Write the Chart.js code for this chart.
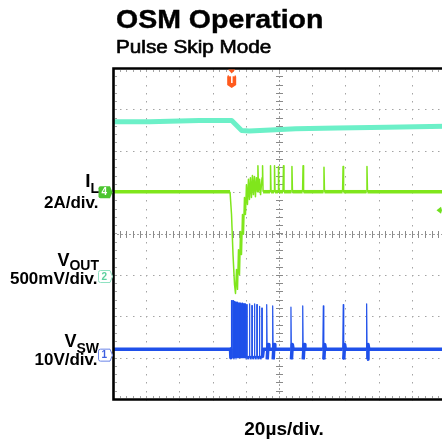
<!DOCTYPE html>
<html><head><meta charset="utf-8">
<script src="https://cdn.jsdelivr.net/npm/chart.js@4"></script>
<style>
html,body{margin:0;padding:0;background:#fff;overflow:hidden;width:442px;height:445px}
canvas{display:block}
</style></head>
<body>
<canvas id="c" width="446" height="445" style="width:446px;height:445px"></canvas>
<script>
// ---- text ----
const titleText = 'OSM Operation';
const subtitleText = 'Pulse Skip Mode';
const timeDivLabel = '20µs/div.';

// ---- screen / scales ----
const timeRangeUs = [0, 200];
const screenDivRange = [-4, 4];
const gridTimeUs = [0, 20, 40, 60, 80, 100, 120, 140, 160, 180, 200];
const gridDiv = [-4, -3, -2, -1, 0, 1, 2, 3, 4];
const timeMinorUs = 4;
const divMinor = 0.2;
const centerTimeUs = 100;
const triggerTimeUs = 71.5;
const triggerLevelDiv = 0.56;

// ---- channel markers ----
const chanIds = ['4', '2', '1'];
const chanOffsetDiv = [1.0, -1.04, -2.94];

// ---- Channel 2: VOUT (cyan) ----
const voutTimeUs = [0, 22, 52, 71.5, 74.5, 77.5, 82, 95, 110, 135, 165, 200];
const voutDiv   = [2.70, 2.70, 2.73, 2.73, 2.61, 2.49, 2.48, 2.50, 2.53, 2.55, 2.57, 2.59];

// ---- Channel 4: IL (green) ----
const ilTimeUs = [0, 70.5, 71.4, 72.3, 73.2, 73.8, 74.4, 75.0, 75.6, 76.2, 76.8, 77.4, 78.0, 78.6, 79.2, 79.8,
  80.4, 81.0, 81.6, 82.2, 82.8, 83.4, 84.0, 84.6, 85.2, 85.8, 86.4, 87.0, 87.3, 87.7, 88.3, 88.9, 89.8, 90.1, 90.4,
  94.6, 94.9, 95.2, 97.0, 97.3, 97.6, 99.4, 99.7, 100.0, 102.4, 102.7, 103.0, 107.5, 107.8, 108.1,
  114.2, 114.5, 114.8, 126.8, 127.1, 127.4, 138.3, 138.6, 138.9, 152.7, 153.0, 153.3, 200];
const ilDiv = [1.01, 1.01, 0.46, -0.51, -1.23, -1.45, -0.87, -1.35, -0.39, -0.99, 0.05, -0.51, 0.46, -0.02, 0.87, 0.46,
  1.18, 0.70, 1.31, 0.82, 1.35, 0.87, 1.40, 0.94, 1.38, 0.89, 1.35, 1.01, 1.64, 1.01, 1.31, 0.94, 1.35, 1.64, 1.01,
  1.01, 1.64, 1.01, 1.01, 1.64, 1.01, 1.01, 1.62, 1.01, 1.01, 1.64, 1.01, 1.01, 1.62, 1.01,
  1.01, 1.64, 1.01, 1.01, 1.60, 1.01, 1.01, 1.62, 1.01, 1.01, 1.62, 1.01, 1.01];

// ---- Channel 1: VSW (blue) ----
const vswTimeUs = [0, 70.8, 71.0,
  71.4, 71.4, 71.75, 71.75,  72.2, 72.2, 72.55, 72.55,  72.9, 72.9, 73.25, 73.25,
  73.5, 73.5, 73.85, 73.85,  74.1, 74.1, 74.45, 74.45,  74.7, 74.7, 75.05, 75.05,
  75.3, 75.3, 75.65, 75.65,  75.9, 75.9, 76.25, 76.25,  76.5, 76.5, 76.85, 76.85,
  77.1, 77.1, 77.45, 77.45,  77.7, 77.7, 78.05, 78.05,  78.3, 78.3, 78.65, 78.65,
  78.9, 78.9, 79.25, 79.25,  79.5, 79.5, 79.85, 79.85,  80.5, 80.5, 80.85, 80.85,
  82.1, 82.1, 82.45, 82.45,  83.6, 83.6, 83.95, 83.95,  85.1, 85.1, 85.45, 85.45,
  86.6, 86.6, 86.95, 86.95,  88.1, 88.1, 88.45, 88.45,  89.6, 89.6, 89.95, 89.95,
  90.3, 90.6,
  92.3, 92.6, 92.9, 93.4, 93.9,
  95.9, 96.2, 96.5, 97.0, 97.5,
  106.9, 107.2, 107.5, 108.0, 108.5,
  114.0, 114.3, 114.6, 115.1, 115.6,
  126.4, 126.7, 127.0, 127.5, 128.0,
  138.4, 138.7, 139.0, 139.5, 140.0,
  152.5, 152.8, 153.1, 153.6, 154.1,
  200];
const vswDiv = [-2.80, -2.80, -3.00,
  -3.00, -1.62, -1.62, -3.00,  -3.00, -1.62, -1.62, -3.00,  -3.00, -1.64, -1.64, -3.00,
  -3.00, -1.65, -1.65, -3.00,  -3.00, -1.66, -1.66, -3.00,  -3.00, -1.66, -1.66, -3.00,
  -3.00, -1.68, -1.68, -3.00,  -3.00, -1.68, -1.68, -3.00,  -3.00, -1.68, -1.68, -3.00,
  -3.00, -1.70, -1.70, -3.00,  -3.00, -1.68, -1.68, -3.00,  -3.00, -1.70, -1.70, -3.00,
  -3.00, -1.70, -1.70, -3.00,  -3.00, -1.70, -1.70, -3.00,  -3.00, -1.72, -1.72, -3.00,
  -3.00, -1.70, -1.70, -3.00,  -3.00, -1.74, -1.74, -3.00,  -3.00, -1.70, -1.70, -3.00,
  -3.00, -1.72, -1.72, -3.00,  -3.00, -1.76, -1.76, -3.00,  -3.00, -1.80, -1.80, -3.00,
  -3.00, -2.80,
  -2.80, -1.72, -3.04, -2.68, -2.80,
  -2.80, -1.75, -3.04, -2.68, -2.80,
  -2.80, -1.78, -3.04, -2.68, -2.80,
  -2.80, -1.75, -3.04, -2.68, -2.80,
  -2.80, -1.75, -3.04, -2.68, -2.80,
  -2.80, -1.72, -3.04, -2.68, -2.80,
  -2.80, -1.70, -3.04, -2.68, -2.80,
  -2.80];

const FONT = '"Liberation Sans", Arial, Helvetica, sans-serif';
const toPoints = (t, v) => t.map((x, i) => ({x, y: v[i]}));

function chanMarker(ctx, tipX, yc, fill, stroke, textColor, label) {
  const l = tipX - 14, r = tipX - 2.5, t = yc - 6, b = yc + 6;
  ctx.beginPath();
  ctx.moveTo(l + 2, t); ctx.lineTo(r, t); ctx.lineTo(tipX, yc); ctx.lineTo(r, b); ctx.lineTo(l + 2, b);
  ctx.quadraticCurveTo(l, b, l, b - 2); ctx.lineTo(l, t + 2); ctx.quadraticCurveTo(l, t, l + 2, t);
  ctx.closePath();
  ctx.fillStyle = fill; ctx.fill();
  if (stroke) { ctx.strokeStyle = stroke; ctx.lineWidth = 1; ctx.stroke(); }
  ctx.fillStyle = textColor;
  ctx.font = 'bold 10px ' + FONT;
  ctx.textAlign = 'center'; ctx.textBaseline = 'middle';
  ctx.fillText(label, (l + r) / 2, yc + 0.5);
}

function stretchedText(ctx, text, x, y, sx, strokeW) {
  ctx.save();
  ctx.translate(x, y); ctx.scale(sx, 1);
  ctx.fillText(text, 0, 0);
  if (strokeW) { ctx.lineWidth = strokeW; ctx.strokeStyle = ctx.fillStyle; ctx.strokeText(text, 0, 0); }
  ctx.restore();
}

const scopePlugin = {
  id: 'scope',
  beforeDatasetsDraw(chart) {
    const {ctx, chartArea: a, scales: {x, y}} = chart;
    ctx.save();
    const minorT = [], minorV = [];
    for (let t = timeRangeUs[0]; t <= timeRangeUs[1] + 1e-6; t += timeMinorUs) minorT.push(t);
    for (let v = screenDivRange[0]; v <= screenDivRange[1] + 1e-6; v += divMinor) minorV.push(v);
    ctx.fillStyle = '#a4a4a4';
    gridTimeUs.forEach(t => {
      if (t === timeRangeUs[0] || t === centerTimeUs || t === timeRangeUs[1]) return;
      const px = Math.round(x.getPixelForValue(t));
      minorV.forEach(v => ctx.fillRect(px, Math.round(y.getPixelForValue(v)), 1, 1.5));
    });
    gridDiv.forEach(v => {
      if (v === 0 || v === screenDivRange[0] || v === screenDivRange[1]) return;
      const py = Math.round(y.getPixelForValue(v));
      minorT.forEach(t => ctx.fillRect(Math.round(x.getPixelForValue(t)), py, 1.5, 1));
    });
    minorT.forEach(t => {
      const px = Math.round(x.getPixelForValue(t));
      ctx.fillRect(px, a.top + 2, 1, 2);
      ctx.fillRect(px, a.bottom - 3, 1, 2);
    });
    minorV.forEach(v => {
      const py = Math.round(y.getPixelForValue(v));
      ctx.fillRect(a.left + 2, py, 2, 1);
    });
    const cx = Math.round(x.getPixelForValue(centerTimeUs)) + 0.5;
    const cy = Math.round(y.getPixelForValue(0)) + 0.5;
    ctx.strokeStyle = '#a0a0a0'; ctx.lineWidth = 1; ctx.setLineDash([2, 2]);
    ctx.beginPath(); ctx.moveTo(a.left, cy); ctx.lineTo(a.right, cy); ctx.stroke();
    ctx.beginPath(); ctx.moveTo(cx, a.top); ctx.lineTo(cx, a.bottom); ctx.stroke();
    ctx.setLineDash([]);
    ctx.fillStyle = '#8a8a8a';
    minorT.forEach(t => ctx.fillRect(Math.round(x.getPixelForValue(t)), cy - 3.5, 1, 7));
    minorV.forEach(v => ctx.fillRect(cx - 3.5, Math.round(y.getPixelForValue(v)), 7, 1));
    ctx.restore();
  },
  afterDatasetsDraw(chart) {
    const {ctx, chartArea: a, scales: {x, y}} = chart;
    ctx.save();
    ctx.strokeStyle = '#000'; ctx.lineWidth = 2.6;
    ctx.beginPath();
    ctx.moveTo(a.right + 6, a.top + 0.5); ctx.lineTo(a.left + 0.5, a.top + 0.5);
    ctx.lineTo(a.left + 0.5, a.bottom + 0.5); ctx.lineTo(a.right + 6, a.bottom + 0.5);
    ctx.stroke();

    // trigger marker
    const tx = x.getPixelForValue(triggerTimeUs);
    ctx.fillStyle = '#ff5a1e';
    ctx.beginPath(); ctx.moveTo(tx - 3.5, a.top + 1.5); ctx.lineTo(tx + 3.5, a.top + 1.5); ctx.lineTo(tx, a.top + 5.5); ctx.closePath(); ctx.fill();
    ctx.beginPath();
    const bl = tx - 4.5, br = tx + 4.5, bt = a.top + 7, bb = a.top + 17;
    ctx.moveTo(bl + 2, bt); ctx.lineTo(br - 2, bt); ctx.quadraticCurveTo(br, bt, br, bt + 2);
    ctx.lineTo(br, bb); ctx.lineTo(tx, bb + 3); ctx.lineTo(bl, bb); ctx.lineTo(bl, bt + 2);
    ctx.quadraticCurveTo(bl, bt, bl + 2, bt); ctx.closePath(); ctx.fill();
    ctx.fillStyle = '#fff'; ctx.font = 'bold 10px ' + FONT; ctx.textAlign = 'center'; ctx.textBaseline = 'middle';
    ctx.fillText('T', tx, a.top + 12.5);

    // trigger level arrow (right edge)
    const ly = y.getPixelForValue(triggerLevelDiv);
    ctx.fillStyle = '#6fe01e';
    ctx.beginPath(); ctx.moveTo(436.5, ly); ctx.lineTo(441, ly - 3.5); ctx.lineTo(442, ly); ctx.lineTo(441, ly + 3.5); ctx.closePath(); ctx.fill();

    // channel markers
    const tip = a.left - 0.5;
    chanMarker(ctx, tip, y.getPixelForValue(chanOffsetDiv[0]), '#4cc530', null, '#ffffff', chanIds[0]);
    chanMarker(ctx, tip, y.getPixelForValue(chanOffsetDiv[1]), '#ffffff', '#8fe2c2', '#5ccf9e', chanIds[1]);
    chanMarker(ctx, tip, y.getPixelForValue(chanOffsetDiv[2]), '#ffffff', '#6a84e8', '#3d5fe0', chanIds[2]);

    // titles
    ctx.fillStyle = '#000'; ctx.textAlign = 'left'; ctx.textBaseline = 'alphabetic';
    ctx.font = 'bold 25px ' + FONT;
    stretchedText(ctx, titleText, 116, 28, 1.14, 0.4);
    ctx.font = '18px ' + FONT;
    stretchedText(ctx, subtitleText, 116, 53, 1.15, 0.6);

    // channel labels
    ctx.fillStyle = '#000';
    ctx.textAlign = 'right';
    const big = 'bold 18px ' + FONT, sub = 'bold 14px ' + FONT, unit = 'bold 17px ' + FONT;
    ctx.font = sub; const wL = ctx.measureText('L').width;
    ctx.fillText('L', 99, 193);
    ctx.font = 'bold 19px ' + FONT; ctx.fillText('I', 99 - wL, 187);
    ctx.font = unit; ctx.fillText('2A/div.', 98.5, 208);

    ctx.font = sub; const wOUT = ctx.measureText('OUT').width;
    ctx.fillText('OUT', 99, 270);
    ctx.font = big; ctx.fillText('V', 99 - wOUT, 266);
    ctx.font = unit; ctx.fillText('500mV/div.', 97.5, 284);

    ctx.font = sub; const wSW = ctx.measureText('SW').width;
    ctx.fillText('SW', 99, 352.5);
    ctx.font = big; ctx.fillText('V', 99 - wSW, 347);
    ctx.font = unit; ctx.fillText('10V/div.', 97.5, 365);

    ctx.textAlign = 'left'; ctx.font = 'bold 18px ' + FONT;
    const wt = ctx.measureText(timeDivLabel).width * 1.06;
    stretchedText(ctx, timeDivLabel, 284 - wt / 2, 435, 1.06, 0);
    ctx.restore();
  }
};

new Chart(document.getElementById('c'), {
  type: 'line',
  data: {
    datasets: [
      { label: 'VOUT', data: toPoints(voutTimeUs, voutDiv), borderColor: '#6cf0c8', borderWidth: 5,
        pointRadius: 0, tension: 0, borderJoinStyle: 'round', borderCapStyle: 'round' },
      { label: 'IL', data: toPoints(ilTimeUs, ilDiv), borderColor: '#80e61c', borderWidth: 3.5,
        pointRadius: 0, tension: 0, borderJoinStyle: 'round',
        segment: { borderWidth: c => (Math.abs(c.p1.parsed.y - c.p0.parsed.y) > 0.15 ? 1.5 : 3.5) } },
      { label: 'VSW', data: toPoints(vswTimeUs, vswDiv), borderColor: '#1f50ea', borderWidth: 3.5,
        pointRadius: 0, tension: 0, borderJoinStyle: 'round',
        segment: { borderWidth: c => (c.p0.parsed.y < -2.6 && c.p1.parsed.y < -2.6 ? 3.5 : 1.2) } }
    ]
  },
  options: {
    responsive: false, animation: false, devicePixelRatio: 1,
    layout: { padding: { left: 113, top: 68, right: 1, bottom: 46 } },
    plugins: { legend: { display: false }, tooltip: { enabled: false }, title: { display: false } },
    scales: {
      x: { type: 'linear', min: timeRangeUs[0], max: timeRangeUs[1], display: false },
      y: { type: 'linear', min: screenDivRange[0], max: screenDivRange[1], display: false }
    }
  },
  plugins: [scopePlugin]
});
</script>
</body></html>
